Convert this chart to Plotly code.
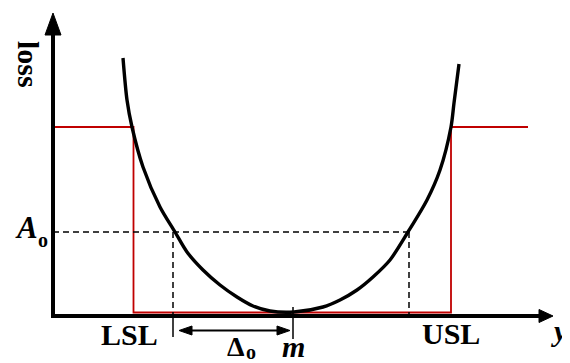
import plotly.graph_objects as go

# quality loss curve (x: offset along y axis, y: loss)
curve_x = [70, 74, 79, 90, 107, 122, 134, 150, 167, 184, 200, 217, 241,
           270, 287, 304, 320, 337, 355, 374, 387, 398, 401, 406]
curve_y = [258, 216, 189, 149, 109, 84, 64, 46, 31, 19, 10, 5, 4,
           9, 16, 26, 39, 56, 84, 116, 146, 189, 213, 252]

# step (0/1) loss function in red
step_x = [0, 80.5, 80.5, 398, 398, 475]
step_y = [189, 189, 3.5, 3.5, 189, 189]

lsl, usl, target = 80.5, 398, 240
a0_level = 84
a0_left, a0_right = 120, 356

SERIF = "Liberation Serif"
BLACK = "black"
RED = "#c00000"

fig = go.Figure()

# red step loss
fig.add_trace(go.Scatter(x=step_x, y=step_y, mode="lines",
                         line=dict(color=RED, width=1.8), hoverinfo="skip"))

# dashed guides at A0
fig.add_trace(go.Scatter(x=[0, a0_right], y=[a0_level, a0_level], mode="lines",
                         line=dict(color=BLACK, width=1.5, dash="6px,4px")))
for xv in (a0_left, a0_right):
    fig.add_trace(go.Scatter(x=[xv, xv], y=[a0_level, 0], mode="lines",
                             line=dict(color=BLACK, width=1.5, dash="6px,4px")))

# ticks below the axis
fig.add_trace(go.Scatter(x=[a0_left, a0_left], y=[0, -21], mode="lines",
                         line=dict(color=BLACK, width=1.5)))
fig.add_trace(go.Scatter(x=[target, target], y=[9, -23], mode="lines",
                         line=dict(color=BLACK, width=1.5)))

# quadratic loss curve
fig.add_trace(go.Scatter(x=curve_x, y=curve_y, mode="lines",
                         line=dict(color=BLACK, width=3.4, shape="spline", smoothing=0.8)))

# axes with arrow heads
x_end, y_end = 500, 303
fig.add_trace(go.Scatter(x=[0, 0, x_end - 14], y=[y_end - 22, 0, 0], mode="lines",
                         line=dict(color=BLACK, width=4)))
fig.add_trace(go.Scatter(x=[-8, 8, 0, -8], y=[y_end - 22, y_end - 22, y_end, y_end - 22],
                         mode="lines", fill="toself", fillcolor=BLACK,
                         line=dict(color=BLACK, width=1)))
fig.add_trace(go.Scatter(x=[x_end - 14, x_end - 14, x_end, x_end - 14], y=[-6.5, 6.5, 0, -6.5],
                         mode="lines", fill="toself", fillcolor=BLACK,
                         line=dict(color=BLACK, width=1)))

# delta double arrow
d_y = -14.5
left_tip, right_tip = a0_left + 6, target - 3
fig.add_trace(go.Scatter(x=[left_tip + 10, right_tip - 10], y=[d_y, d_y], mode="lines",
                         line=dict(color=BLACK, width=2)))
fig.add_trace(go.Scatter(x=[left_tip + 13, left_tip + 13, left_tip, left_tip + 13],
                         y=[d_y - 4.5, d_y + 4.5, d_y, d_y - 4.5],
                         mode="lines", fill="toself", fillcolor=BLACK, line=dict(color=BLACK, width=1)))
fig.add_trace(go.Scatter(x=[right_tip - 13, right_tip - 13, right_tip, right_tip - 13],
                         y=[d_y - 4.5, d_y + 4.5, d_y, d_y - 4.5],
                         mode="lines", fill="toself", fillcolor=BLACK, line=dict(color=BLACK, width=1)))


def label(text, x, y, size, angle=0, anchor="center"):
    fig.add_annotation(x=x, y=y, text=text, showarrow=False, textangle=angle,
                       xanchor=anchor, yanchor="middle",
                       font=dict(family=SERIF, size=size, color=BLACK))


label("<b>loss</b>", -24, 252, 30, angle=90)
label("<b><i>A</i></b>", -27, 89, 31)
label("<b>o</b>", -10, 76, 20)
label("<b>LSL</b>", 76, -18, 30)
label("<b>USL</b>", 398, -17, 30)
label("<b>Δ</b>", 183, -30, 28)
label("<b>o</b>", 198, -36, 20)
label("<b><i>m</i></b>", target, -30, 30)
label("<b><i>y</i></b>", 496, -14, 30, anchor="left")

# the page body adds an 8px margin, so the ranges are offset by that much
fig.update_layout(
    width=570,
    height=363,
    margin=dict(l=0, r=8, t=0, b=8),
    showlegend=False,
    paper_bgcolor="white",
    plot_bgcolor="white",
)
fig.update_xaxes(range=[-45, 517], visible=False, fixedrange=True)
fig.update_yaxes(range=[-47, 308], visible=False, fixedrange=True)

fig.write_html("out.html")
